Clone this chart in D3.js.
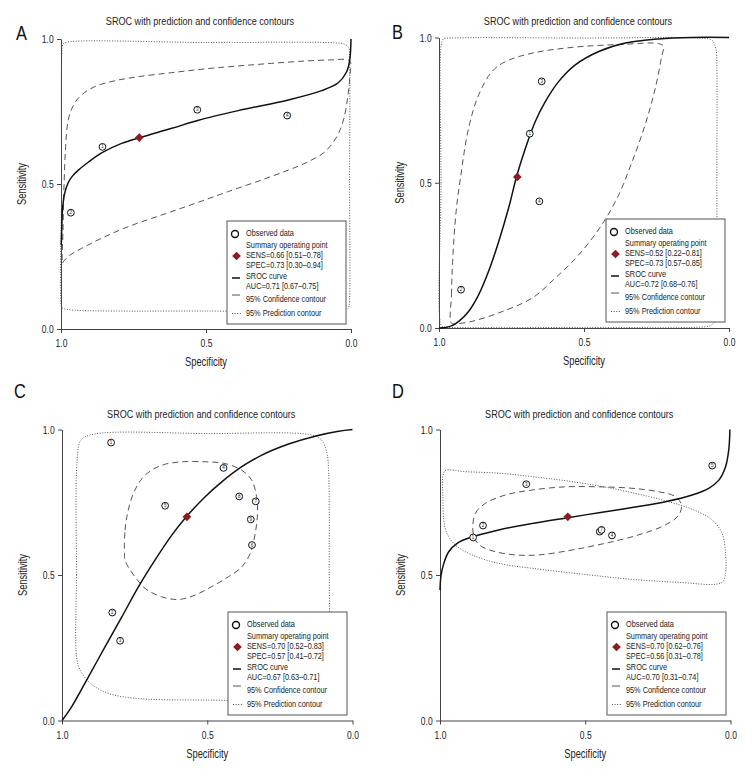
<!DOCTYPE html>
<html><head><meta charset="utf-8">
<script src="https://cdn.jsdelivr.net/npm/d3@7"></script>
<style>
body{margin:0;background:#fff}
svg{display:block}
text{font-family:"Liberation Sans",Arial,sans-serif;fill:#222}
</style>
</head><body>
<svg id="chart" width="756" height="780"></svg>
<script>
// ---------- data ----------
const panelLetters = ["A", "B", "C", "D"];
const chartTitle = "SROC with prediction and confidence contours";
const axisTicks = [0.0, 0.5, 1.0];
const xLabel = "Specificity";
const yLabel = "Sensitivity";
const legendFixed = ["Observed data", "Summary operating point", "SROC curve",
                     "95% Confidence contour", "95% Prediction contour"];

// observed studies: [specificity, sensitivity, study id]
const obsA = [[0.857,0.628,1],[0.966,0.401,2],[0.530,0.756,3],[0.220,0.736,4]];
const obsB = [[0.687,0.669,1],[0.924,0.132,2],[0.646,0.849,3],[0.654,0.436,4]];
const obsC = [[0.831,0.955,1],[0.827,0.371,2],[0.800,0.274,3],[0.444,0.868,4],[0.645,0.738,5],
              [0.346,0.603,6],[0.333,0.753,7],[0.390,0.770,8],[0.350,0.691,9]];
const obsD = [[0.886,0.629,1],[0.852,0.670,2],[0.703,0.812,3],[0.408,0.636,4],[0.063,0.876,5],
              [0.450,0.649,6],[0.444,0.655,7]];

// summary operating points [spec, sens]
const summaryA = [0.73, 0.66];
const summaryB = [0.73, 0.52];
const summaryC = [0.57, 0.70];
const summaryD = [0.56, 0.70];

// legend statistics
const statsA = ["SENS=0.66 [0.51\u20130.78]", "SPEC=0.73 [0.30\u20130.94]", "AUC=0.71 [0.67\u20130.75]"];
const statsB = ["SENS=0.52 [0.22\u20130.81]", "SPEC=0.73 [0.57\u20130.85]", "AUC=0.72 [0.68\u20130.76]"];
const statsC = ["SENS=0.70 [0.52\u20130.83]", "SPEC=0.57 [0.41\u20130.72]", "AUC=0.67 [0.63\u20130.71]"];
const statsD = ["SENS=0.70 [0.62\u20130.76]", "SPEC=0.56 [0.31\u20130.78]", "AUC=0.70 [0.31\u20130.74]"];

// SROC curves [spec, sens]
const srocA = [[0.999,0.29],[0.997,0.36],[0.995,0.41],[0.988,0.465],[0.975,0.505],[0.96,0.528],[0.94,0.548],
  [0.906,0.575],[0.86,0.607],[0.791,0.640],[0.725,0.661],[0.618,0.692],[0.526,0.72],[0.389,0.753],
  [0.216,0.79],[0.101,0.822],[0.044,0.849],[0.015,0.887],[0.004,0.93],[0.001,0.97],[0.0,1.0]];
const srocB = [[1.0,0.0],[0.978,0.002],[0.955,0.008],[0.932,0.023],[0.898,0.057],[0.863,0.115],[0.829,0.195],
  [0.794,0.298],[0.760,0.413],[0.732,0.523],[0.702,0.619],[0.668,0.711],[0.633,0.780],[0.587,0.849],
  [0.53,0.906],[0.449,0.952],[0.357,0.981],[0.243,0.995],[0.128,1.0],[0.0,1.0]];
const srocC = [[1.0,0.0],[0.967,0.047],[0.909,0.150],[0.852,0.253],[0.794,0.356],[0.737,0.459],[0.680,0.551],
  [0.622,0.637],[0.572,0.700],[0.507,0.769],[0.450,0.820],[0.381,0.872],[0.312,0.912],[0.220,0.950],
  [0.129,0.977],[0.048,0.994],[0.0,1.0]];
const srocD = [[1.0,0.448],[0.997,0.494],[0.987,0.540],[0.970,0.580],[0.941,0.609],[0.886,0.632],[0.798,0.655],
  [0.683,0.677],[0.560,0.697],[0.453,0.714],[0.339,0.732],[0.224,0.752],[0.132,0.775],[0.075,0.798],
  [0.040,0.826],[0.017,0.872],[0.006,0.930],[0.002,1.0]];

// 95% confidence contours [spec, sens]
const confA = [[0.995,0.226],[0.993,0.341],[0.990,0.479],[0.984,0.629],[0.975,0.721],[0.957,0.772],[0.929,0.807],
  [0.883,0.836],[0.814,0.856],[0.733,0.870],[0.618,0.884],[0.503,0.897],[0.389,0.907],[0.274,0.916],
  [0.159,0.924],[0.067,0.928],[0.009,0.928],[0.001,0.918],[0.003,0.881],[0.011,0.801],[0.026,0.721],
  [0.049,0.663],[0.090,0.611],[0.147,0.577],[0.216,0.548],[0.308,0.514],[0.423,0.474],[0.538,0.433],
  [0.653,0.393],[0.768,0.353],[0.860,0.313],[0.929,0.278],[0.969,0.255],[0.992,0.232]];
const confB = [[0.957,0.017],[0.957,0.115],[0.953,0.229],[0.941,0.401],[0.926,0.516],[0.898,0.688],[0.863,0.803],
  [0.817,0.883],[0.771,0.917],[0.679,0.946],[0.541,0.966],[0.357,0.977],[0.243,0.979],[0.225,0.969],
  [0.231,0.940],[0.254,0.826],[0.289,0.700],[0.334,0.573],[0.380,0.459],[0.438,0.356],[0.518,0.252],
  [0.599,0.172],[0.679,0.103],[0.794,0.052],[0.886,0.023],[0.938,0.015]];
const confC = [[0.785,0.574],[0.783,0.654],[0.772,0.723],[0.749,0.792],[0.714,0.843],[0.657,0.877],[0.588,0.889],
  [0.507,0.889],[0.439,0.883],[0.381,0.860],[0.347,0.826],[0.330,0.769],[0.327,0.711],[0.335,0.643],
  [0.352,0.574],[0.381,0.528],[0.427,0.494],[0.485,0.460],[0.542,0.431],[0.599,0.416],[0.657,0.425],
  [0.714,0.454],[0.749,0.494],[0.772,0.528],[0.783,0.551]];
const confD = [[0.887,0.655],[0.878,0.712],[0.844,0.746],[0.775,0.775],[0.683,0.792],[0.568,0.803],[0.453,0.803],
  [0.339,0.798],[0.247,0.786],[0.189,0.769],[0.169,0.741],[0.178,0.706],[0.224,0.672],[0.316,0.638],
  [0.431,0.609],[0.545,0.586],[0.660,0.569],[0.741,0.569],[0.809,0.580],[0.855,0.597],[0.878,0.620]];

// 95% prediction contours [spec, sens]
const predA = [[0.998,0.075],[0.998,0.5],[0.997,0.95],[0.993,0.982],[0.98,0.989],[0.5,0.988],[0.06,0.987],
  [0.025,0.983],[0.008,0.97],[0.005,0.93],[0.005,0.5],[0.005,0.1],[0.008,0.075],[0.02,0.064],[0.5,0.062],
  [0.94,0.064],[0.98,0.068],[0.995,0.072]];
const predB = [[0.993,0.01],[0.993,0.5],[0.992,0.975],[0.985,0.995],[0.96,0.998],[0.5,0.998],[0.09,0.997],
  [0.058,0.99],[0.045,0.96],[0.042,0.9],[0.042,0.5],[0.042,0.08],[0.048,0.025],[0.065,0.008],[0.1,0.003],
  [0.5,0.002],[0.95,0.002],[0.985,0.004]];
const predC = [[0.95,0.22],[0.95,0.5],[0.948,0.89],[0.935,0.963],[0.89,0.984],[0.5,0.986],[0.14,0.981],
  [0.106,0.963],[0.088,0.918],[0.082,0.85],[0.08,0.5],[0.08,0.25],[0.09,0.12],[0.13,0.08],[0.2,0.07],
  [0.5,0.07],[0.756,0.077],[0.845,0.095],[0.904,0.129],[0.938,0.174]];
const predD = [[0.990,0.838],[0.982,0.859],[0.913,0.855],[0.798,0.850],[0.683,0.838],[0.568,0.824],[0.453,0.806],
  [0.339,0.783],[0.224,0.755],[0.132,0.726],[0.063,0.689],[0.029,0.643],[0.017,0.574],[0.017,0.506],
  [0.026,0.477],[0.052,0.468],[0.166,0.474],[0.339,0.485],[0.511,0.503],[0.683,0.523],[0.798,0.540],
  [0.890,0.569],[0.947,0.603],[0.976,0.643],[0.987,0.689],[0.990,0.769]];

// ---------- layout (positions only) ----------
const panels = [
  {letter:0, obs:obsA, sum:summaryA, stats:statsA, sroc:srocA, conf:confA, pred:predA,
   x0:61, x1:351, yT:39, yB:329, titleY:22, letterX:16, letterY:40, lgX:227, lgY:221},
  {letter:1, obs:obsB, sum:summaryB, stats:statsB, sroc:srocB, conf:confB, pred:predB,
   x0:439, x1:729, yT:37.5, yB:328, titleY:22, letterX:392, letterY:39, lgX:606, lgY:219},
  {letter:2, obs:obsC, sum:summaryC, stats:statsC, sroc:srocC, conf:confC, pred:predC,
   x0:62, x1:352.5, yT:429.5, yB:720.5, titleY:415, letterX:14, letterY:398, lgX:228, lgY:612},
  {letter:3, obs:obsD, sum:summaryD, stats:statsD, sroc:srocD, conf:confD, pred:predD,
   x0:440, x1:730.5, yT:429.5, yB:720.5, titleY:415, letterX:392, letterY:398, lgX:607, lgY:612}
];

const svg = d3.select("#chart");
const red = "#8b1c22";
const gray = "#555";

// condensed text helper
function ctext(parent, x, y, str, size, sx, anchor) {
  return parent.append("text")
    .attr("transform", `translate(${x},${y}) scale(${sx},1)`)
    .attr("text-anchor", anchor || "start")
    .attr("dominant-baseline", "middle")
    .attr("font-size", size).text(str);
}

panels.forEach(p => {
  const x = d3.scaleLinear().domain([1, 0]).range([p.x0, p.x1]);
  const y = d3.scaleLinear().domain([0, 1]).range([p.yB, p.yT]);
  const g = svg.append("g");

  // panel letter
  g.append("text").attr("transform", `translate(${p.letterX},${p.letterY}) scale(0.78,1)`)
    .attr("font-size", 21).style("fill", "#111").text(panelLetters[p.letter]);
  // title
  ctext(g, (p.x0 + p.x1) / 2 - 6, p.titleY, chartTitle, 11.5, 0.79, "middle");

  // axes
  const fmt = d3.format(".1f");
  const ax = g.append("g").attr("transform", `translate(0,${p.yB})`)
    .call(d3.axisBottom(x).tickValues(axisTicks).tickFormat(fmt).tickSize(4).tickPadding(4).tickSizeOuter(0));
  const ay = g.append("g").attr("transform", `translate(${p.x0},0)`)
    .call(d3.axisLeft(y).tickValues(axisTicks).tickFormat(fmt).tickSize(4).tickPadding(6).tickSizeOuter(0));
  [ax, ay].forEach(a => {
    a.selectAll("path,line").attr("stroke", "#444");
    a.selectAll("text").attr("font-size", 11.5)
      .style("font-family", '"Liberation Sans",Arial,sans-serif').style("fill", "#222")
      .attr("transform", "scale(0.74,1)");
  });
  ax.selectAll("text").attr("dy", "0.9em");

  ctext(g, (p.x0 + p.x1) / 2, p.yB + 34, xLabel, 12, 0.78, "middle");
  g.append("text").attr("transform", `translate(${p.x0 - 38},${(p.yT + p.yB) / 2}) rotate(-90) scale(0.78,1)`)
    .attr("text-anchor", "middle").attr("dominant-baseline", "middle")
    .attr("font-size", 12).text(yLabel);

  // contours
  const closed = d3.line().x(d => x(d[0])).y(d => y(d[1])).curve(d3.curveCatmullRomClosed.alpha(0.5));
  const open = d3.line().x(d => x(d[0])).y(d => y(d[1])).curve(d3.curveCatmullRom.alpha(0.5));

  g.append("path").attr("d", closed(p.pred)).attr("fill", "none")
    .attr("stroke", gray).attr("stroke-width", 1).attr("stroke-dasharray", "1,1.6");
  g.append("path").attr("d", closed(p.conf)).attr("fill", "none")
    .attr("stroke", gray).attr("stroke-width", 1).attr("stroke-dasharray", "6,4");
  g.append("path").attr("d", open(p.sroc)).attr("fill", "none")
    .attr("stroke", "#111").attr("stroke-width", 1.5);

  // observed points
  const pts = g.selectAll(".obs").data(p.obs).enter().append("g")
    .attr("transform", d => `translate(${x(d[0])},${y(d[1])})`);
  pts.append("circle").attr("r", 3.4).attr("fill", "#fff").attr("stroke", "#111").attr("stroke-width", 1);
  pts.append("text").attr("text-anchor", "middle").attr("dominant-baseline", "central")
    .attr("font-size", 4.5).text(d => d[2]);

  // summary point
  g.append("path").attr("d", d3.symbol(d3.symbolSquare, 38)())
    .attr("transform", `translate(${x(p.sum[0])},${y(p.sum[1])}) rotate(45)`)
    .attr("fill", red);

  // legend
  const lg = g.append("g").attr("transform", `translate(${p.lgX},${p.lgY})`);
  lg.append("rect").attr("width", 119).attr("height", 103).attr("fill", "#fff")
    .attr("stroke", gray).attr("stroke-width", 1);
  lg.append("circle").attr("cx", 8).attr("cy", 13).attr("r", 3.5).attr("fill", "#fff")
    .attr("stroke", "#111").attr("stroke-width", 1.4);
  lg.append("path").attr("d", d3.symbol(d3.symbolSquare, 38)())
    .attr("transform", "translate(9.5,35) rotate(45)").attr("fill", red);
  lg.append("line").attr("x1", 5).attr("x2", 13).attr("y1", 57).attr("y2", 57)
    .attr("stroke", "#111").attr("stroke-width", 1.5);
  lg.append("line").attr("x1", 5).attr("x2", 13).attr("y1", 74).attr("y2", 74)
    .attr("stroke", gray).attr("stroke-width", 1);
  lg.append("line").attr("x1", 5).attr("x2", 15).attr("y1", 92.5).attr("y2", 92.5)
    .attr("stroke", gray).attr("stroke-width", 1).attr("stroke-dasharray", "1,1.6");
  const rows = [
    [legendFixed[0], 13], [legendFixed[1], 25], [p.stats[0], 35], [p.stats[1], 45],
    [legendFixed[2], 55.5], [p.stats[2], 65.5], [legendFixed[3], 79], [legendFixed[4], 92.5]
  ];
  rows.forEach(r => ctext(lg, 19, r[1], r[0], 8.6, 0.85, "start"));
});
</script>
</body></html>
